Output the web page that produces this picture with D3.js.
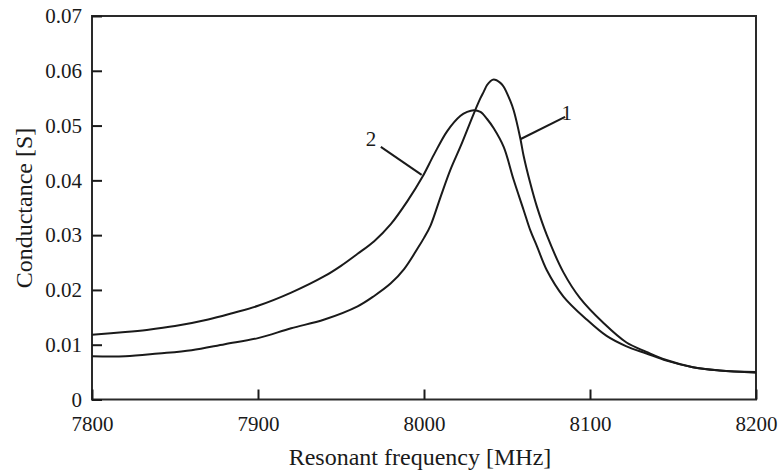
<!DOCTYPE html>
<html>
<head>
<meta charset="utf-8">
<script src="https://cdn.jsdelivr.net/npm/d3@7"></script>
<style>
  html, body { margin: 0; padding: 0; background: #fff; }
  svg { display: block; }
  text { font-family: "Liberation Serif", "DejaVu Serif", serif; fill: #1a1a1a; }
</style>
</head>
<body>
<svg id="chart" width="778" height="472"></svg>
<script>
// ---- data ----
const xTicks = [7800, 7900, 8000, 8100, 8200];
const yTicks = [0, 0.01, 0.02, 0.03, 0.04, 0.05, 0.06, 0.07];
const xLabel = "Resonant frequency [MHz]";
const yLabel = "Conductance [S]";

// curve 1 (sharp, higher peak)
const freq1 = [7800, 7820, 7840, 7860, 7880, 7900, 7920, 7940, 7960, 7970, 7980, 7988, 7996, 8000, 8004, 8010, 8016, 8022, 8030, 8034, 8036, 8038, 8040, 8042, 8046, 8048, 8052, 8054, 8058, 8060, 8064, 8068, 8074, 8084, 8094, 8108, 8122, 8134, 8146, 8162, 8178, 8200];
const cond1 = [0.0079, 0.0079, 0.0084, 0.0090, 0.0101, 0.0112, 0.0130, 0.0146, 0.0170, 0.0189, 0.0212, 0.0238, 0.0275, 0.0295, 0.0318, 0.0370, 0.0420, 0.0462, 0.0522, 0.0550, 0.0562, 0.0574, 0.0581, 0.0584, 0.0578, 0.0571, 0.0545, 0.0528, 0.0477, 0.0445, 0.0395, 0.0352, 0.0300, 0.0232, 0.0185, 0.0140, 0.0104, 0.0087, 0.0072, 0.0059, 0.0053, 0.0049];

// curve 2 (broader, lower peak)
const freq2 = [7800, 7820, 7833, 7850, 7870, 7885, 7900, 7920, 7940, 7950, 7960, 7970, 7980, 7990, 7999, 8006, 8014, 8022, 8026, 8030, 8034, 8038, 8042, 8048, 8054, 8060, 8064, 8068, 8074, 8084, 8098, 8110, 8122, 8134, 8146, 8162, 8178, 8200];
const cond2 = [0.0118, 0.0123, 0.0127, 0.0134, 0.0146, 0.0158, 0.0171, 0.0195, 0.0225, 0.0244, 0.0266, 0.0289, 0.0320, 0.0362, 0.0406, 0.0447, 0.0490, 0.0518, 0.0525, 0.0528, 0.0525, 0.0512, 0.0495, 0.0461, 0.0401, 0.0346, 0.0309, 0.0280, 0.0236, 0.0188, 0.0146, 0.0116, 0.0097, 0.0084, 0.0071, 0.0059, 0.0053, 0.0050];

// curve labels with leader lines (in data units)
const labelNames = ["1", "2"];
const labelAt = [[8086, 0.0511], [7968, 0.0462]];
const leaderFrom = [[8085, 0.0516], [7974, 0.0461]];
const leaderTo = [[8058, 0.0475], [7998.6, 0.0410]];

// ---- layout ----
const W = 778, H = 472;
const margin = { left: 92, right: 22, top: 16, bottom: 72.5 };
const svg = d3.select("#chart");
const x = d3.scaleLinear().domain([7800, 8200]).range([margin.left, W - margin.right]);
const y = d3.scaleLinear().domain([0, 0.07]).range([H - margin.bottom, margin.top]);
const ink = "#1a1a1a";
const serif = "'Liberation Serif', 'DejaVu Serif', serif";

// frame
svg.append("rect")
  .attr("x", x(7800)).attr("y", y(0.07))
  .attr("width", x(8200) - x(7800)).attr("height", y(0) - y(0.07))
  .attr("fill", "none").attr("stroke", "#2a2a2a").attr("stroke-width", 2);

// y axis
const yAxis = d3.axisLeft(y).tickValues(yTicks)
  .tickFormat(d => d === 0 ? "0" : d3.format(".2f")(d))
  .tickSizeInner(-10).tickSizeOuter(0).tickPadding(10);
const gy = svg.append("g").attr("transform", `translate(${x(7800)},0)`).call(yAxis)
  .attr("font-family", null).attr("font-size", null);
gy.select(".domain").remove();
gy.selectAll(".tick line").attr("stroke", ink).attr("stroke-width", 2);
gy.selectAll(".tick text").style("font-size", "21px").style("font-family", serif).attr("fill", ink);

// x axis
const xAxis = d3.axisBottom(x).tickValues(xTicks).tickFormat(d3.format("d"))
  .tickSizeInner(-10).tickSizeOuter(0).tickPadding(16.5);
const gx = svg.append("g").attr("transform", `translate(0,${y(0)})`).call(xAxis)
  .attr("font-family", null).attr("font-size", null);
gx.select(".domain").remove();
gx.selectAll(".tick line").attr("stroke", ink).attr("stroke-width", 2);
gx.selectAll(".tick text").style("font-size", "21px").style("font-family", serif).attr("fill", ink);

// axis titles
svg.append("text")
  .attr("x", (x(7800) + x(8200)) / 2 - 4).attr("y", 465)
  .attr("text-anchor", "middle").style("font-size", "24px").style("font-family", serif)
  .text(xLabel);
svg.append("text")
  .attr("transform", `translate(32,208) rotate(-90)`)
  .attr("text-anchor", "middle").style("font-size", "24px").style("font-family", serif)
  .text(yLabel);

// curves
const line = d3.line().x(d => x(d[0])).y(d => y(d[1])).curve(d3.curveCatmullRom.alpha(0.5));
const series = [d3.zip(freq1, cond1), d3.zip(freq2, cond2)];
svg.selectAll("path.curve").data(series).join("path")
  .attr("class", "curve")
  .attr("d", line)
  .attr("fill", "none").attr("stroke", ink).attr("stroke-width", 2)
  .attr("stroke-linejoin", "round");

// labels + leaders
labelNames.forEach((name, i) => {
  svg.append("line")
    .attr("x1", x(leaderFrom[i][0])).attr("y1", y(leaderFrom[i][1]))
    .attr("x2", x(leaderTo[i][0])).attr("y2", y(leaderTo[i][1]))
    .attr("stroke", ink).attr("stroke-width", 2);
  svg.append("text")
    .attr("x", x(labelAt[i][0])).attr("y", y(labelAt[i][1]))
    .attr("text-anchor", "middle").style("font-size", "21px").style("font-family", serif)
    .text(name);
});
</script>
</body>
</html>
